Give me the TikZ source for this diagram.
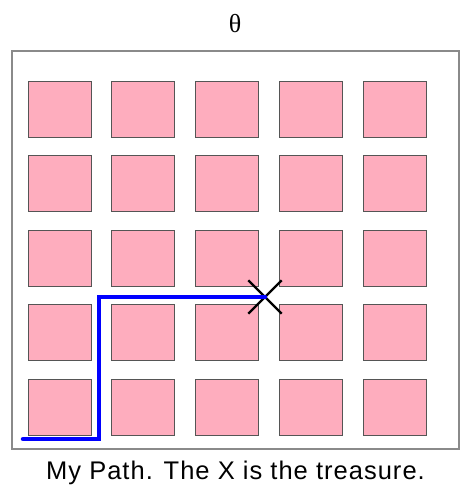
\documentclass[tikz,border=0pt]{standalone}
\usepackage{fontspec}
\setmainfont{Liberation Serif}
\newfontfamily\capfont[LetterSpace=4]{Liberation Sans}
\definecolor{mapPink}{HTML}{FEADBE}
\definecolor{mapEdge}{HTML}{555555}
\definecolor{mapFrame}{HTML}{8A8A8A}
\definecolor{mapBlue}{HTML}{0000FF}
\usetikzlibrary{shapes.misc, positioning, calc}

\begin{document}
\begin{tikzpicture}[x=1pt, y=-1pt,
  tile/.style={rectangle, fill=mapPink, draw=mapEdge, line width=0.8pt,
    minimum width=63pt, minimum height=56pt, inner sep=0pt},
  route/.style={mapBlue, line width=4.5pt, line cap=round, line join=miter},
  treasure/.style={cross out, draw=black, line width=2.4pt,
    minimum size=31pt, inner sep=0pt}]
  \useasboundingbox (0,0) rectangle (472,497);
  % title and outer frame
  \node[font=\fontsize{26}{30}\selectfont, inner sep=0pt] (title) at (235,24) {θ};
  \draw[mapFrame, line width=1.2pt] (12,51) rectangle (459,449);
  % the 5x5 grid of cells
  \foreach \col in {0,...,4}
    \foreach \row in {0,...,4}
      \node[tile] (cell-\row-\col) at ({59.5+83.75*\col},{109+74.5*\row}) {};
  % my path to the treasure
  \node[treasure] (x) at (265,297) {};
  \coordinate (start) at (23,439);
  \coordinate (corner) at (99,297);
  \draw[route] (start) -| (corner) -- (x.center);
  \node[font=\capfont\fontsize{25.5}{30}\selectfont, anchor=base, inner sep=0pt]
    (caption) at (235.5,479) {My Path. The X is the treasure.};
\end{tikzpicture}
\end{document}
